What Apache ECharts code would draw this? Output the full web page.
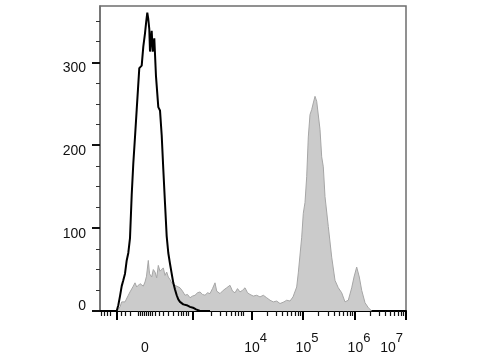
<!DOCTYPE html>
<html>
<head>
<meta charset="utf-8">
<script src="https://cdn.jsdelivr.net/npm/echarts@6/dist/echarts.min.js"></script>
<style>html,body{margin:0;padding:0;background:#fff}#c{width:480px;height:360px}</style>
</head>
<body>
<div id="c"></div>
<script>
// x values are display channel positions on a biexponential scale (0..306)
var unstX = [0,10,16.7,18.3,20,21.7,23.3,25,26.7,28.3,30,31.7,33.3,35,36.7,38,39.3,40.5,41.7,43.3,45,46.3,47.3,48.3,49.3,50,50.8,51.7,52.7,53.5,54.3,56,58.3,60,61.7,63.3,65,66.7,68.3,70,71.7,73.3,75,76.7,78.3,80,83.3,86.7,90,93,96,100,110];
var unstCount = [0,0,0,7,18,30,37,45,61,70,88,140,178,210,243,268,293,295,296,319,335,350,360,352,340,313,325,338,313,320,329,283,246,242,212,171,130,90,70,57,45,34,26,19,14,11,8,7,5,4,2,0,0];
var stX = [17,20,21.7,25,28.3,30,31.7,33.3,35,36.7,38.3,40,41.7,43.3,45,46.5,48.3,49.5,51.7,53.3,55,56.7,58.3,60,61.7,63.3,65,66.7,68.3,70,71.7,73.3,75,77,80,82.5,85,87.5,90,92.5,95,97.5,100,102.5,105,107.5,110,112.5,115,116.7,118.3,120,123.3,126.7,130,132.5,135,137.5,140,142.5,145,147.5,150,153.3,156.7,160,163.3,166.7,170,173.3,176.7,180,181.7,184,186.7,190,193,196.7,198.3,201.7,203.3,205,206.7,208.3,210,211.7,213.3,215,216.7,218.3,220,221.7,223.3,225,228.3,231.7,235,238.3,241.7,245,248.3,251.7,254,256.7,259.3,261.7,265,268.3,271.7];
var stCount = [0,5,11,11,19,23,25,30,34,29,31,33,34,30,35,42,61,45,41,50,47,40,55,48,46,52,43,47,41,38,34,36,31,33,28,24,19,20,16,18,19,22,23,20,19,22,21,27,34,24,25,21,25,28,31,24,22,27,23,25,28,22,20,18,19,17,19,16,13,11,12,9,7,11,13,12,17,29,46,89,118,131,162,210,237,243,251,259,253,251,219,186,174,138,102,65,37,28,22,11,13,28,41,53,41,25,10,4,0];

var xMajorTicks = [16.7, 92.7, 151.7, 203, 255, 305.7];
var xMinorTicks = [1,4,7,10,21,25,30,38,40,42,44,46,48,50,52,55,59,63,68,73,78,81,83,86,88,111.7,120,126.7,131.7,135,138.3,141,143.3];
var decadeStarts = [151.7, 203, 255];
var decadeWidths = [51.3, 52, 50.7];
for (var d = 0; d < decadeStarts.length; d++) {
  for (var k = 2; k <= 9; k++) xMinorTicks.push(decadeStarts[d] + decadeWidths[d] * Math.log10(k));
}
var xLabelPos = [45, 151.7, 203, 255, 305.7];
var xLabelExp = ['', '4', '5', '6', '7'];
var yMajorTicks = [0, 100, 200, 300];
var yMinorTicks = [25,50,75,125,150,175,225,250,275,325,350];

function zip(a, b) { return a.map(function (v, i) { return [v, b[i]]; }); }

var font = 'Liberation Sans, Arial, sans-serif';
var chart = echarts.init(document.getElementById('c'));
chart.setOption({
  animation: false,
  grid: { left: 100, right: 74, top: 6, bottom: 49, show: true, borderColor: '#6e6e6e', borderWidth: 1.5 },
  xAxis: [{
    type: 'value', min: 0, max: 306,
    axisLine: { show: true, lineStyle: { color: '#000', width: 2 } },
    axisTick: { show: true, customValues: xMajorTicks, length: 9, lineStyle: { color: '#000', width: 2 } },
    splitLine: { show: false },
    axisLabel: {
      customValues: xLabelPos, margin: 21, fontFamily: font, color: '#111',
      formatter: function (v) {
        var best = 0;
        for (var i = 0; i < xLabelPos.length; i++) if (Math.abs(xLabelPos[i] - v) < Math.abs(xLabelPos[best] - v)) best = i;
        if (xLabelExp[best] === '') return '{z|0}';
        if (xLabelExp[best] === '7') return '{b7|10}{s7|7}';
        return '{b|10}{s|' + xLabelExp[best] + '}';
      },
      rich: {
        z: { fontSize: 14, lineHeight: 32, fontFamily: font, color: '#111' },
        b: { fontSize: 14, lineHeight: 32, fontFamily: font, color: '#111', padding: [0, 0, 0, 8] },
        b7: { fontSize: 14, lineHeight: 32, fontFamily: font, color: '#111' },
        s: { fontSize: 13, lineHeight: 14, verticalAlign: 'top', fontFamily: font, color: '#111' },
        s7: { fontSize: 13, lineHeight: 14, verticalAlign: 'top', fontFamily: font, color: '#111', padding: [0, 28, 0, 0] }
      }
    }
  }, {
    type: 'value', min: 0, max: 306, position: 'bottom',
    axisLine: { show: false },
    axisTick: { show: true, customValues: xMinorTicks, length: 5, lineStyle: { color: '#111', width: 1.2 } },
    axisLabel: { show: false },
    splitLine: { show: false }
  }],
  yAxis: [{
    type: 'value', min: 0, max: 368,
    axisLine: { show: true, lineStyle: { color: '#6e6e6e', width: 1.5 } },
    axisTick: { show: true, customValues: yMajorTicks, length: 8, lineStyle: { color: '#111', width: 2 } },
    splitLine: { show: false },
    axisLabel: {
      customValues: yMajorTicks, margin: 14, fontFamily: font, color: '#111',
      formatter: function (v) { return v === 0 ? '{z|0}' : '{n|' + v + '}'; },
      rich: {
        n: { fontSize: 14, fontFamily: font, color: '#111', padding: [12, 0, 0, 0] },
        z: { fontSize: 14, fontFamily: font, color: '#111', padding: [0, 0, 10, 0] }
      }
    }
  }, {
    type: 'value', min: 0, max: 368, position: 'left',
    axisLine: { show: false },
    axisTick: { show: true, customValues: yMinorTicks, length: 4, lineStyle: { color: '#333', width: 1 } },
    axisLabel: { show: false },
    splitLine: { show: false }
  }],
  series: [{
    type: 'line', data: zip(stX, stCount), symbol: 'none', smooth: false,
    lineStyle: { color: '#a6a6a6', width: 1 },
    areaStyle: { color: '#cbcbcb', opacity: 1 },
    z: 2
  }, {
    type: 'line', data: zip(unstX, unstCount), symbol: 'none', smooth: false,
    lineStyle: { color: '#000', width: 2 },
    z: 3
  }]
});
</script>
</body>
</html>
